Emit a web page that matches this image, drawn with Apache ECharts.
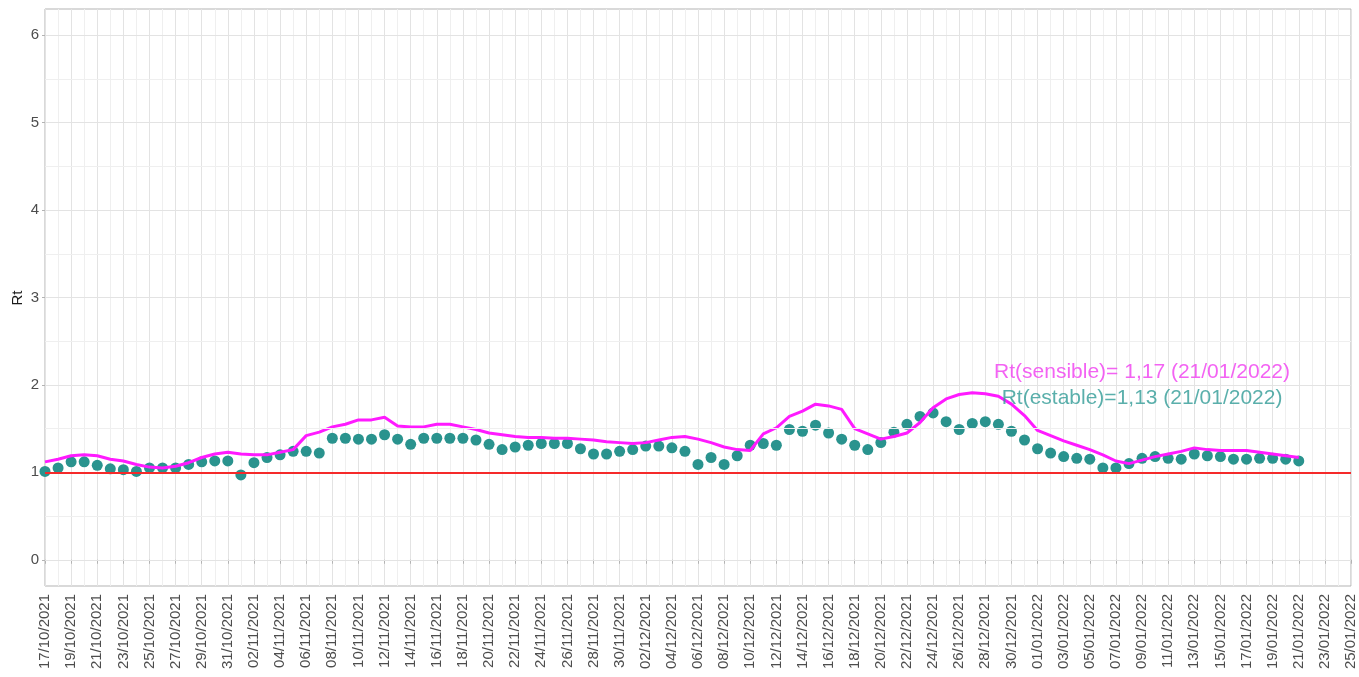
<!DOCTYPE html>
<html>
<head>
<meta charset="utf-8">
<script src="https://cdn.jsdelivr.net/npm/echarts@6/dist/echarts.min.js"></script>
<style>
html,body{margin:0;padding:0;background:#fff;}
#chart{width:1359px;height:677px;}
</style>
</head>
<body>
<div id="chart"></div>
<script>
const dates = [
'17/10/2021','18/10/2021','19/10/2021','20/10/2021','21/10/2021','22/10/2021','23/10/2021','24/10/2021','25/10/2021','26/10/2021','27/10/2021','28/10/2021','29/10/2021','30/10/2021','31/10/2021',
'01/11/2021','02/11/2021','03/11/2021','04/11/2021','05/11/2021','06/11/2021','07/11/2021','08/11/2021','09/11/2021','10/11/2021','11/11/2021','12/11/2021','13/11/2021','14/11/2021','15/11/2021',
'16/11/2021','17/11/2021','18/11/2021','19/11/2021','20/11/2021','21/11/2021','22/11/2021','23/11/2021','24/11/2021','25/11/2021','26/11/2021','27/11/2021','28/11/2021','29/11/2021','30/11/2021',
'01/12/2021','02/12/2021','03/12/2021','04/12/2021','05/12/2021','06/12/2021','07/12/2021','08/12/2021','09/12/2021','10/12/2021','11/12/2021','12/12/2021','13/12/2021','14/12/2021','15/12/2021',
'16/12/2021','17/12/2021','18/12/2021','19/12/2021','20/12/2021','21/12/2021','22/12/2021','23/12/2021','24/12/2021','25/12/2021','26/12/2021','27/12/2021','28/12/2021','29/12/2021','30/12/2021','31/12/2021',
'01/01/2022','02/01/2022','03/01/2022','04/01/2022','05/01/2022','06/01/2022','07/01/2022','08/01/2022','09/01/2022','10/01/2022','11/01/2022','12/01/2022','13/01/2022','14/01/2022','15/01/2022',
'16/01/2022','17/01/2022','18/01/2022','19/01/2022','20/01/2022','21/01/2022','22/01/2022','23/01/2022','24/01/2022','25/01/2022'
];

// Rt(sensible) – magenta line, 17/10/2021 .. 21/01/2022
const rtSensible = [
1.12,1.15,1.19,1.20,1.19,1.15,1.13,1.09,1.06,1.05,1.07,1.11,1.17,1.21,1.23,
1.21,1.20,1.20,1.23,1.26,1.42,1.46,1.52,1.55,1.60,1.60,1.63,1.53,1.52,1.52,
1.55,1.55,1.52,1.49,1.45,1.43,1.41,1.40,1.40,1.39,1.39,1.38,1.37,1.35,1.34,
1.33,1.34,1.37,1.40,1.41,1.38,1.34,1.29,1.26,1.25,1.44,1.51,1.64,1.70,1.78,
1.76,1.72,1.50,1.44,1.38,1.41,1.45,1.57,1.74,1.84,1.89,1.91,1.90,1.87,1.78,1.65,
1.48,1.42,1.36,1.31,1.26,1.20,1.13,1.10,1.14,1.18,1.21,1.24,1.28,1.26,1.25,
1.25,1.25,1.23,1.21,1.19,1.17
];

// Rt(estable) – teal dots, 17/10/2021 .. 21/01/2022
const rtEstable = [
1.01,1.05,1.12,1.12,1.08,1.04,1.03,1.01,1.05,1.05,1.05,1.09,1.12,1.13,1.13,
0.97,1.11,1.17,1.20,1.24,1.24,1.22,1.39,1.39,1.38,1.38,1.43,1.38,1.32,1.39,
1.39,1.39,1.39,1.37,1.32,1.26,1.29,1.31,1.33,1.33,1.33,1.27,1.21,1.21,1.24,
1.26,1.30,1.30,1.28,1.24,1.09,1.17,1.09,1.19,1.31,1.33,1.31,1.49,1.47,1.54,
1.45,1.38,1.31,1.26,1.34,1.46,1.55,1.64,1.68,1.58,1.49,1.56,1.58,1.55,1.47,1.37,
1.27,1.22,1.18,1.16,1.15,1.05,1.05,1.10,1.16,1.18,1.16,1.15,1.21,1.19,1.18,
1.15,1.15,1.16,1.16,1.15,1.13
];

const yTicks = [0,1,2,3,4,5,6];
const yMinor = [0.5,1.5,2.5,3.5,4.5,5.5];
const threshold = 1;
const yTitle = 'Rt';

const annotations = [
  {text:'Rt(sensible)= 1,17 (21/01/2022)', date:'09/01/2022', y:2.14, color:'#f03cf0'},
  {text:'Rt(estable)=1,13 (21/01/2022)', date:'09/01/2022', y:1.85, color:'#319b96'}
];

const chart = echarts.init(document.getElementById('chart'), null, {renderer:'canvas'});

const font = 'Liberation Sans, Arial, sans-serif';

const option = {
  animation:false,
  backgroundColor:'#ffffff',
  grid:{left:45, top:9, width:1306, height:577, show:true, borderColor:'#b3b3b3', borderWidth:1,
        backgroundColor:'transparent', outerBoundsMode:'none', containLabel:false},
  graphic:[{
    type:'text', x:18, y:298, rotation:Math.PI/2, silent:true,
    style:{text:yTitle, fontSize:15, fill:'#1a1a1a', fontFamily:font, align:'center', verticalAlign:'middle'}
  }],
  xAxis:{
    type:'category',
    data:dates,
    boundaryGap:false,
    axisLine:{show:false},
    axisTick:{show:true, interval:1, length:4, lineStyle:{color:'#b3b3b3'}},
    axisLabel:{interval:1, rotate:90, fontSize:15, color:'#4d4d4d', fontFamily:font, margin:8},
    splitLine:{show:true, interval:0, lineStyle:{color:['#e3e3e3','#efefef'], width:1}}
  },
  yAxis:{
    type:'value',
    min:-0.3, max:6.3,
    axisLine:{show:false},
    axisTick:{show:true, customValues:yTicks, length:3, lineStyle:{color:'#b3b3b3'}},
    axisLabel:{customValues:yTicks, fontSize:15, color:'#4d4d4d', fontFamily:font, margin:6},
    splitLine:{show:false}
  },
  series:[
    {
      type:'line', data:[], silent:true, z:1,
      markLine:{
        silent:true, symbol:'none', label:{show:false},
        data: yMinor.map(v=>({yAxis:v, lineStyle:{color:'#efefef', width:1, type:'solid'}}))
          .concat(yTicks.map(v=>({yAxis:v, lineStyle:{color:'#e3e3e3', width:1, type:'solid'}})))
      }
    },
    {
      type:'line', data:[], silent:true, z:2,
      markLine:{
        silent:true, symbol:'none', label:{show:false},
        data:[{yAxis:threshold, lineStyle:{color:'#f52a2a', width:2, type:'solid'}}]
      }
    },
    {
      name:'Rt(estable)', type:'scatter', data:rtEstable, z:3,
      symbol:'circle', symbolSize:11,
      itemStyle:{color:'#2a938e', opacity:1}
    },
    {
      name:'Rt(sensible)', type:'line', data:rtSensible, z:4,
      showSymbol:false, symbol:'none', smooth:false,
      lineStyle:{color:'#ff1aff', width:3}
    },
    {
      type:'scatter', z:5, symbolSize:0, silent:true,
      data: annotations.map(a=>({value:[a.date, a.y], label:{show:true, position:'inside', formatter:a.text, color:a.color, fontSize:21, fontFamily:font}})),
    }
  ]
};
chart.setOption(option);
</script>
</body>
</html>
